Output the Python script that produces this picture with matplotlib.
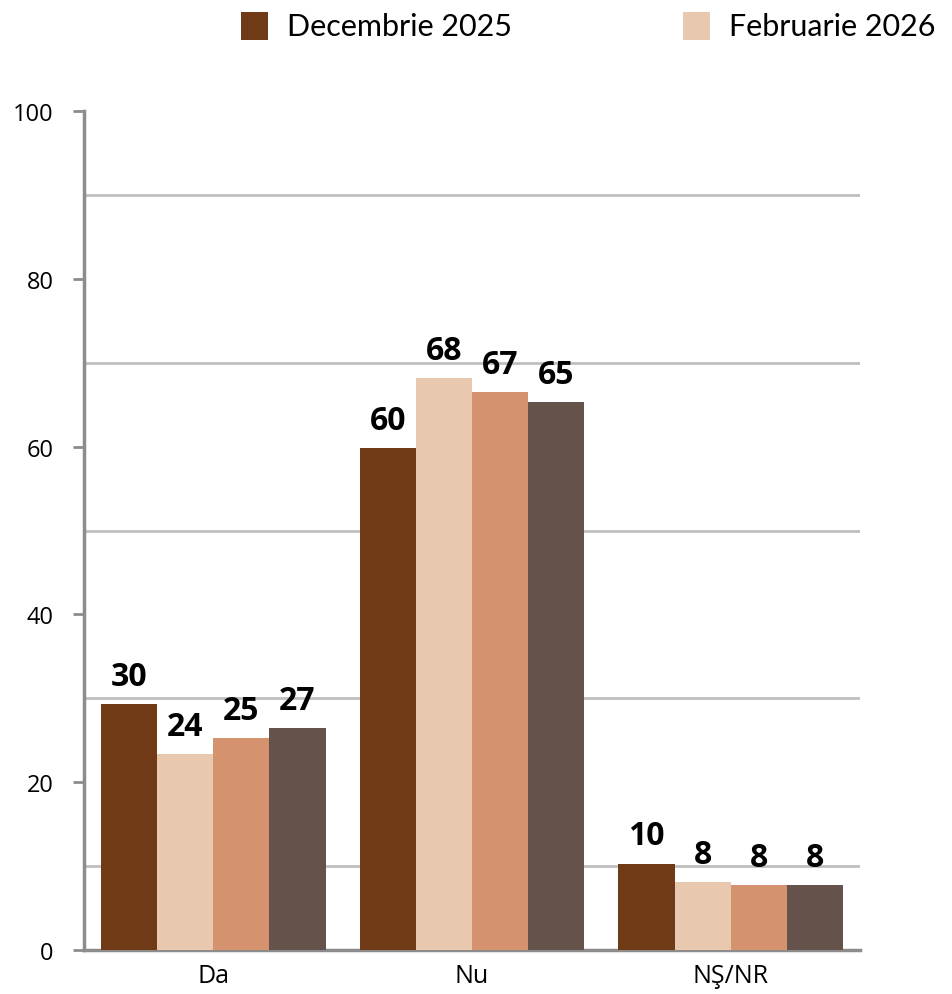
import matplotlib
matplotlib.use("Agg")
import matplotlib.pyplot as plt
import numpy as np
from matplotlib.patches import Rectangle

categories = ["Da", "Nu", "NŞ/NR"]
series_names = ["Decembrie 2025", "Februarie 2026", "Serie 3", "Serie 4"]
values = [
    [29.3, 59.8, 10.3],
    [23.4, 68.2, 8.1],
    [25.3, 66.5, 7.7],
    [26.5, 65.3, 7.7],
]
labels = [
    ["30", "60", "10"],
    ["24", "68", "8"],
    ["25", "67", "8"],
    ["27", "65", "8"],
]
colors = ["#703A17", "#E8C9AF", "#D4936E", "#65524A"]
yticks = [0, 20, 40, 60, 80, 100]
grid_levels = [10, 30, 50, 70, 90]

plt.rcParams['font.family'] = ['Open Sans', 'DejaVu Sans']

fig = plt.figure(figsize=(9.53, 9.95), dpi=100)
ax = fig.add_axes([0.0881, 0.0442, 0.8143, 0.8432])

x = np.arange(len(categories))
w = 0.217
n = len(values)
for i, (vals, labs) in enumerate(zip(values, labels)):
    pos = x + (i - (n - 1) / 2) * w
    bars = ax.bar(pos, vals, width=w, color=colors[i], zorder=3)
    for b, lab in zip(bars, labs):
        ax.annotate(lab, (b.get_x() + b.get_width() / 2, b.get_height()),
                    xytext=(0, 8), textcoords="offset points",
                    ha="center", va="bottom", fontsize=23, fontweight="bold",
                    family=['Open Sans', 'DejaVu Sans'], zorder=4)

ax.set_xlim(-0.5, 2.5)
ax.set_ylim(0, 100)
ax.set_yticks(yticks)
ax.set_yticks(grid_levels, minor=True)
ax.tick_params(axis='y', which='minor', length=0)
ax.grid(axis='y', which='minor', color='#BFBFBF', linewidth=2, zorder=0)
ax.set_xticks(x)
ax.set_xticklabels(categories)
ax.tick_params(axis='x', length=0, labelsize=18, pad=9)
ax.tick_params(axis='y', which='major', length=8, width=2, color='#8C8C8C',
               labelsize=17, pad=14)

for s in ['top', 'right']:
    ax.spines[s].set_visible(False)
for s in ['left', 'bottom']:
    ax.spines[s].set_color('#8C8C8C')
    ax.spines[s].set_linewidth(2.5)

# Legend (two entries, as in the reference)
leg_x = [0.2529, 0.7167]
for lx, name, col in zip(leg_x, series_names[:2], colors[:2]):
    fig.patches.append(Rectangle((lx, 0.9588), 0.0283, 0.0281,
                                 transform=fig.transFigure, facecolor=col,
                                 edgecolor='none'))
    fig.text(lx + 0.0483, 0.9729, name, va='center', ha='left',
             fontsize=22, family=['Lato', 'DejaVu Sans'])

fig.savefig("out.png", dpi=100)
